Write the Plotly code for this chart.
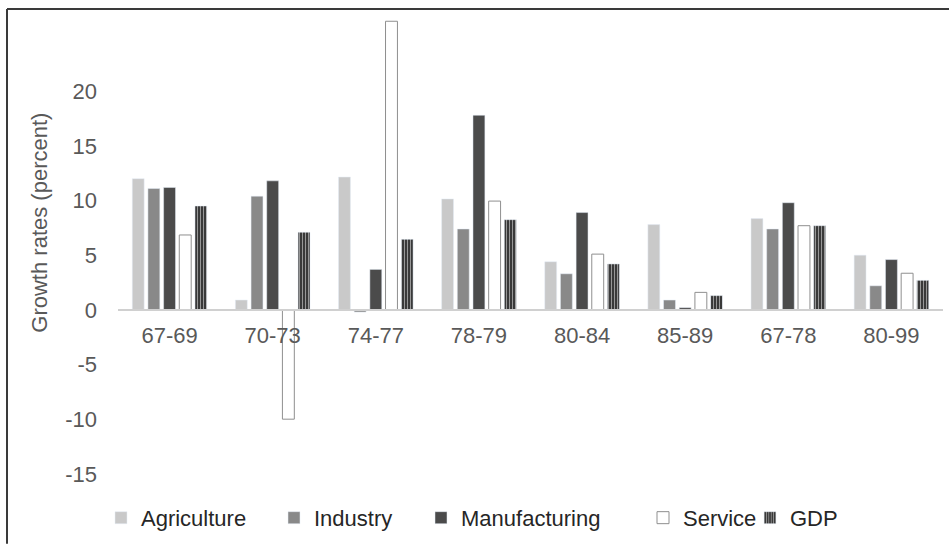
import plotly.graph_objects as go

categories = ["67-69", "70-73", "74-77", "78-79", "80-84", "85-89", "67-78", "80-99"]
agriculture = [12.0, 0.9, 12.15, 10.15, 4.4, 7.8, 8.35, 5.0]
industry = [11.1, 10.4, -0.2, 7.4, 3.3, 0.9, 7.4, 2.2]
manufacturing = [11.2, 11.8, 3.7, 17.8, 8.9, 0.2, 9.8, 4.6]
service = [6.85, -10.0, 26.4, 9.95, 5.1, 1.6, 7.7, 3.35]
gdp = [9.5, 7.1, 6.45, 8.25, 4.2, 1.3, 7.7, 2.7]
y_ticks = [-15, -10, -5, 0, 5, 10, 15, 20]
y_tick_labels = ["-15", "-10", "-5", "0", "5", "10", "15", "20"]

W, H = 949, 545
L, R, T, B = 118, 6, 15, 45
plot_w = W - L - R
plot_h = H - T - B
zero_px = 311.7
px_per_unit = 11.0
y_min = -((H - B) - zero_px) / px_per_unit
y_max = (zero_px - T) / px_per_unit
zero_frac = ((H - B) - zero_px) / plot_h

def px_x(p):
    return (p - L) / plot_w

def px_y(p):
    return ((H - B) - p) / plot_h

FONT = "Liberation Sans, Arial, Helvetica, sans-serif"
TICK_COLOR = "#595959"
LEG_COLOR = "#262626"

fig = go.Figure()
series = [
    ("Agriculture", agriculture, dict(color="#c9c9c9")),
    ("Industry", industry, dict(color="#898989")),
    ("Manufacturing", manufacturing, dict(color="#4b4b4b")),
    ("Service", service, dict(color="#ffffff", line=dict(color="#8f8f8f", width=1))),
    ("GDP", gdp, dict(color="#2e2e2e",
                      pattern=dict(shape="|", fgcolor="#ffffff", bgcolor="#2e2e2e",
                                   size=3, solidity=0.4))),
]
legend_px = [101, 274, 421, 643, 750]
legend_names = ["legend", "legend2", "legend3", "legend4", "legend5"]
for (name, vals, marker), lname in zip(series, legend_names):
    fig.add_trace(go.Bar(x=categories, y=vals, name=name, marker=marker, legend=lname))

layout_legends = {}
for lname, lp in zip(legend_names, legend_px):
    layout_legends[lname] = dict(
        x=px_x(lp), y=px_y(521), xanchor="left", yanchor="middle",
        orientation="h", bgcolor="rgba(0,0,0,0)", borderwidth=0,
        font=dict(family=FONT, size=22, color=LEG_COLOR),
    )

fig.update_layout(
    width=W, height=H,
    margin=dict(l=L, r=R, t=T, b=B, pad=0),
    paper_bgcolor="white", plot_bgcolor="white",
    barmode="group", bargap=0.24, bargroupgap=0.24,
    font=dict(family=FONT, size=22, color=TICK_COLOR),
    showlegend=True,
    **layout_legends,
    xaxis=dict(
        anchor="free", position=zero_frac,
        showline=True, linecolor="#d0d0d0", linewidth=2,
        showgrid=False, ticks="", ticklabelstandoff=6,
        tickfont=dict(family=FONT, size=22, color=TICK_COLOR),
    ),
    yaxis=dict(
        range=[y_min, y_max], tickvals=y_ticks, ticktext=y_tick_labels,
        showgrid=False, zeroline=False, showline=False, ticks="",
        ticklabelstandoff=20,
        tickfont=dict(family=FONT, size=22, color=TICK_COLOR),
    ),
    annotations=[dict(
        text="Growth rates (percent)", textangle=-90,
        xref="paper", yref="paper", x=px_x(40), y=px_y(224),
        xanchor="center", yanchor="middle", showarrow=False,
        font=dict(family=FONT, size=22, color=TICK_COLOR),
    )],
    shapes=[
        dict(type="line", xref="paper", yref="paper",
             x0=px_x(7), x1=px_x(W + 2), y0=px_y(9), y1=px_y(9),
             line=dict(color="#3a3a3a", width=2)),
        dict(type="line", xref="paper", yref="paper",
             x0=px_x(7), x1=px_x(7), y0=px_y(9), y1=px_y(H + 2),
             line=dict(color="#3a3a3a", width=2)),
    ],
)

fig.write_html("out.html")
